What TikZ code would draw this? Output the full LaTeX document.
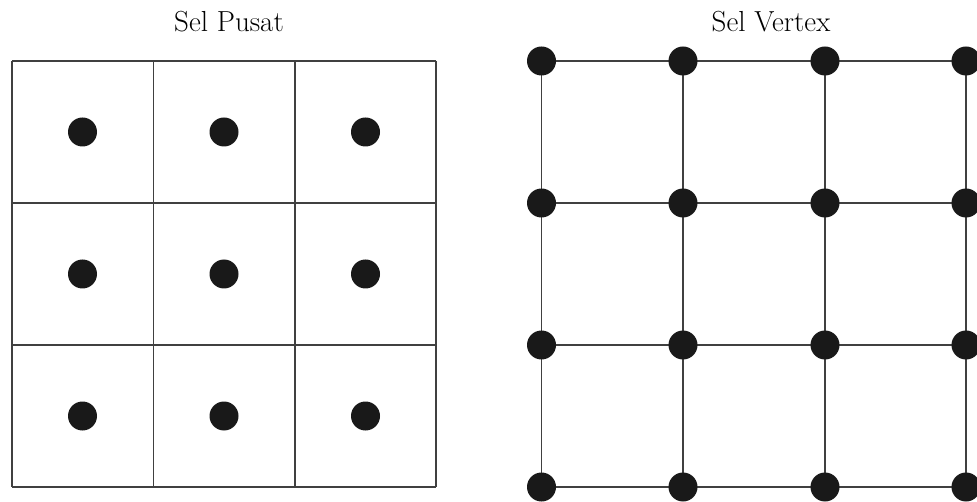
\documentclass[tikz,border=0pt]{standalone}
\usepackage{tikz}
\begin{document}
\begin{tikzpicture}[x=1pt,y=-1pt,
  gridline/.style={draw=black!75, line width=1.5pt},
  dotnode/.style={circle, fill=black!90, inner sep=0pt, minimum size=29pt},
  title/.style={font=\fontsize{29}{34}\selectfont, inner sep=0pt}]
\useasboundingbox (0,0) rectangle (977,502);
\clip (0,0) rectangle (977,502);
% titles
\node[title, anchor=base] (t1) at (229,32) {Sel Pusat};
\node[title, anchor=base] (t2) at (771,32) {Sel Vertex};
% left grid
\foreach \x in {12,153.5,295,436} \draw[gridline] (\x,61) -- (\x,487);
\foreach \y in {61,203,345,487} \draw[gridline] (12,\y) -- (436,\y);
\foreach \x [count=\i] in {82.5,224,365.5}
  \foreach \y [count=\j] in {132,274,416}
    \node[dotnode] (c\i\j) at (\x,\y) {};
% right grid
\foreach \x in {541.5,683,825,966} \draw[gridline] (\x,61) -- (\x,487);
\foreach \y in {61,203,345,487} \draw[gridline] (541.5,\y) -- (966,\y);
\foreach \x [count=\i] in {541.5,683,825,966}
  \foreach \y [count=\j] in {61,203,345,487}
    \node[dotnode] (v\i\j) at (\x,\y) {};
\end{tikzpicture}
\end{document}
